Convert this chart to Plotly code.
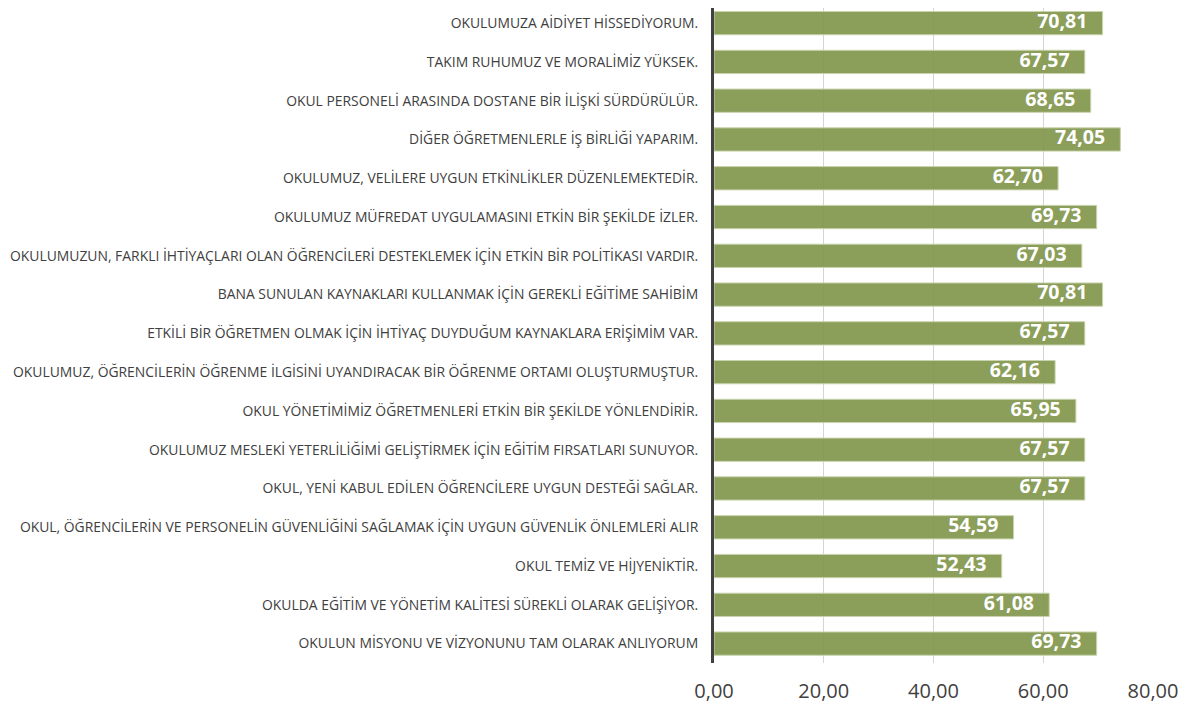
import plotly.graph_objects as go

categories = [
    "OKULUMUZA AİDİYET HİSSEDİYORUM.",
    "TAKIM RUHUMUZ VE MORALİMİZ YÜKSEK.",
    "OKUL PERSONELİ ARASINDA DOSTANE BİR İLİŞKİ SÜRDÜRÜLÜR.",
    "DİĞER ÖĞRETMENLERLE İŞ BİRLİĞİ YAPARIM.",
    "OKULUMUZ, VELİLERE UYGUN ETKİNLİKLER DÜZENLEMEKTEDİR.",
    "OKULUMUZ MÜFREDAT UYGULAMASINI ETKİN BİR ŞEKİLDE İZLER.",
    "OKULUMUZUN, FARKLI İHTİYAÇLARI OLAN ÖĞRENCİLERİ DESTEKLEMEK İÇİN ETKİN BİR POLİTİKASI VARDIR.",
    "BANA SUNULAN KAYNAKLARI KULLANMAK İÇİN GEREKLİ EĞİTİME SAHİBİM",
    "ETKİLİ BİR ÖĞRETMEN OLMAK İÇİN İHTİYAÇ DUYDUĞUM KAYNAKLARA ERİŞİMİM VAR.",
    "OKULUMUZ, ÖĞRENCİLERİN ÖĞRENME İLGİSİNİ UYANDIRACAK BİR ÖĞRENME ORTAMI OLUŞTURMUŞTUR.",
    "OKUL YÖNETİMİMİZ ÖĞRETMENLERİ ETKİN BİR ŞEKİLDE YÖNLENDİRİR.",
    "OKULUMUZ MESLEKİ YETERLİLİĞİMİ GELİŞTİRMEK İÇİN EĞİTİM FIRSATLARI SUNUYOR.",
    "OKUL, YENİ KABUL EDİLEN ÖĞRENCİLERE UYGUN DESTEĞİ SAĞLAR.",
    "OKUL, ÖĞRENCİLERİN VE PERSONELİN GÜVENLİĞİNİ SAĞLAMAK İÇİN UYGUN GÜVENLİK ÖNLEMLERİ ALIR",
    "OKUL TEMİZ VE HİJYENİKTİR.",
    "OKULDA EĞİTİM VE YÖNETİM KALİTESİ SÜREKLİ OLARAK GELİŞİYOR.",
    "OKULUN MİSYONU VE VİZYONUNU TAM OLARAK ANLIYORUM",
]
values = [70.81, 67.57, 68.65, 74.05, 62.70, 69.73, 67.03, 70.81, 67.57,
          62.16, 65.95, 67.57, 67.57, 54.59, 52.43, 61.08, 69.73]
x_ticks = [0, 20, 40, 60, 80]
x_tick_labels = ["0,00", "20,00", "40,00", "60,00", "80,00"]

labels = [f"{v:.2f}".replace(".", ",") + "   " for v in values]

fig = go.Figure()
fig.add_trace(go.Bar(
    x=values,
    y=categories,
    orientation="h",
    marker=dict(color="rgba(130,151,77,0.93)", line=dict(color="#c9d3ad", width=1)),
    width=0.6,
    hoverinfo="x+y",
))
fig.add_trace(go.Scatter(
    x=values,
    y=categories,
    mode="text",
    text=labels,
    textposition="middle left",
    textfont=dict(family="Open Sans", size=19.5, color="white", weight="bold"),
    cliponaxis=False,
    hoverinfo="skip",
))

fig.update_layout(
    template="none",
    width=1186, height=703,
    margin=dict(l=706, r=41, t=0, b=48),
    paper_bgcolor="white", plot_bgcolor="white",
    showlegend=False,
    xaxis=dict(
        range=[0, 80], tickvals=x_ticks, ticktext=x_tick_labels,
        showgrid=True, gridcolor="#d4d4d4", gridwidth=1,
        zeroline=False, showline=False, ticks="",
        automargin=False,
        tickfont=dict(family="Open Sans", size=20, color="#404040"),
        ticklabelstandoff=14,
    ),
    yaxis=dict(
        categoryorder="array", categoryarray=categories,
        range=[16.5, -0.39],
        showline=True, linecolor="#404040", linewidth=3,
        showgrid=False, zeroline=False, ticks="",
        automargin=False,
        tickfont=dict(family="Open Sans", size=13.9, color="#404040"),
        ticklabelstandoff=10,
    ),
)

fig.write_html("out.html")
